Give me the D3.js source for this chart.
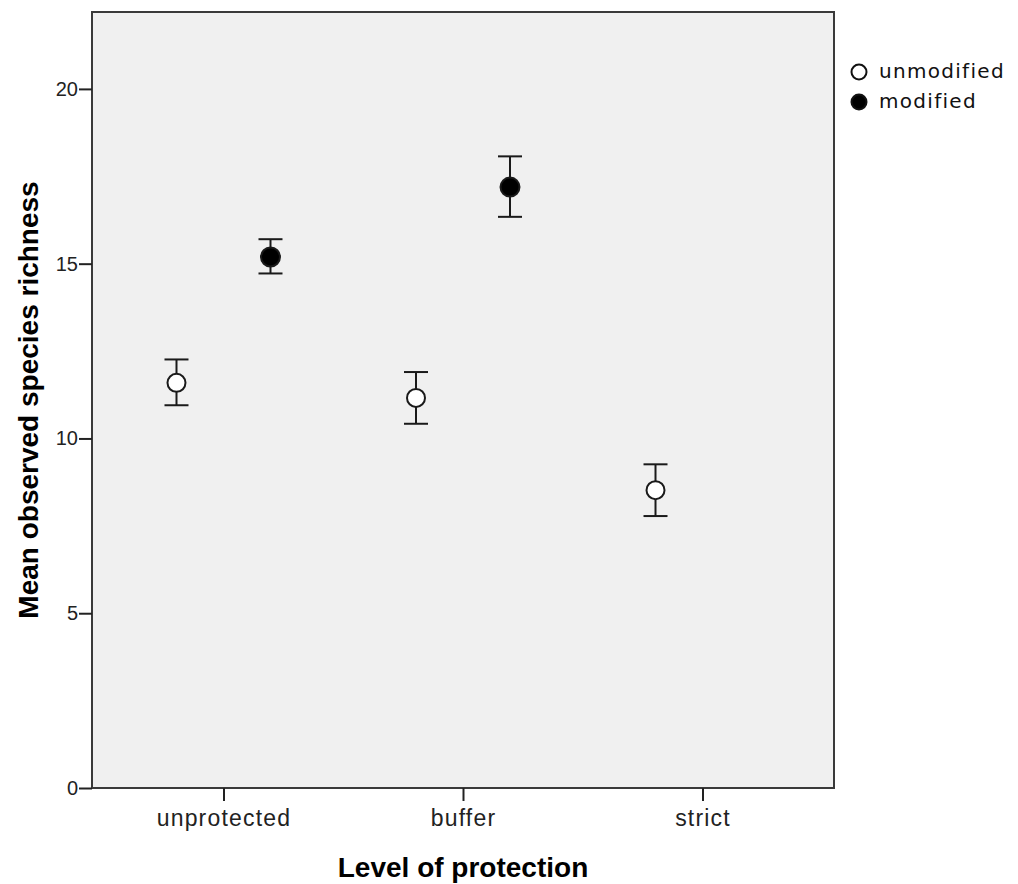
<!DOCTYPE html>
<html lang="en">
	<head>
		<meta charset="utf-8">
		<title>Mean observed species richness by level of protection</title>
		<script type="text/javascript" src="https://cdn.jsdelivr.net/npm/d3@7"></script>
		<style type="text/css">

		body {
			margin: 0;
			background: #ffffff;
		}

		.axis path {
			display: none;
		}

		.axis line {
			stroke: #222222;
			stroke-width: 2px;
		}

		.y.axis text {
			font-family: "Liberation Sans", Arial, sans-serif;
			font-size: 20px;
			fill: #222222;
		}

		.x.axis text {
			font-family: "Liberation Sans", Arial, sans-serif;
			font-size: 23px;
			letter-spacing: 1.2px;
			fill: #222222;
		}

		.title {
			font-family: "Liberation Sans", Arial, sans-serif;
			font-weight: bold;
			font-size: 28px;
			fill: #000000;
		}

		.legend text {
			font-family: "DejaVu Sans", sans-serif;
			font-size: 20px;
			letter-spacing: 1.3px;
			fill: #111111;
		}

		</style>
	</head>
	<body>
		<div id="chart"></div>
		<script type="text/javascript">

		// values
		var categories = ["unprotected", "buffer", "strict"];
		var seriesNames = ["unmodified", "modified"];

		var unmodMean  = [11.59, 11.16, 8.52];
		var unmodLower = [10.95, 10.42, 7.78];
		var unmodUpper = [12.26, 11.90, 9.26];

		var modMean  = [15.19, 17.19, null];
		var modLower = [14.72, 16.34, null];
		var modUpper = [15.70, 18.07, null];

		var yTicks = [0, 5, 10, 15, 20];
		var yMax = 22.2;

		var margin = {top: 12, left: 92, right: 184, bottom: 96},
			width = 1018,
			height = 884;

		var svg = d3.select("#chart").append("svg")
			.attr("width", width)
			.attr("height", height);

		var x = d3.scalePoint()
			.domain(categories)
			.range([margin.left, width - margin.right])
			.padding(0.549);

		var y = d3.scaleLinear()
			.domain([0, yMax])
			.range([height - margin.bottom, margin.top]);

		// two series sit either side of the category tick
		var offset = d3.scalePoint()
			.domain(seriesNames)
			.range([-47, 47]);

		// plot background
		svg.append("rect")
			.attr("x", margin.left)
			.attr("y", margin.top)
			.attr("width", width - margin.right - margin.left)
			.attr("height", height - margin.bottom - margin.top)
			.attr("fill", "#f0f0f0")
			.attr("stroke", "#3a3a3a")
			.attr("stroke-width", 2);

		var yAxis = d3.axisLeft(y)
			.tickValues(yTicks)
			.tickSize(13)
			.tickPadding(1);

		svg.append("g")
			.attr("class", "y axis")
			.attr("transform", "translate(" + margin.left + ",0)")
			.call(yAxis);

		var xAxis = d3.axisBottom(x)
			.tickSize(13)
			.tickPadding(9);

		svg.append("g")
			.attr("class", "x axis")
			.attr("transform", "translate(0," + (height - margin.bottom) + ")")
			.call(xAxis);

		// build the rows for each series
		var rows = [];
		categories.forEach(function(c, i) {
			rows.push({cat: c, series: "unmodified", mean: unmodMean[i], lo: unmodLower[i], hi: unmodUpper[i]});
			if (modMean[i] != null) {
				rows.push({cat: c, series: "modified", mean: modMean[i], lo: modLower[i], hi: modUpper[i]});
			}
		});

		var px = function(d) { return x(d.cat) + offset(d.series); };

		var bars = svg.selectAll("g.bar")
			.data(rows)
			.enter()
			.append("g")
			.attr("class", "bar")
			.attr("stroke", "#1a1a1a")
			.attr("stroke-width", 2);

		bars.append("line")
			.attr("x1", px)
			.attr("x2", px)
			.attr("y1", function(d) { return y(d.lo); })
			.attr("y2", function(d) { return y(d.hi); });

		bars.append("line")
			.attr("x1", function(d) { return px(d) - 12; })
			.attr("x2", function(d) { return px(d) + 12; })
			.attr("y1", function(d) { return y(d.hi); })
			.attr("y2", function(d) { return y(d.hi); });

		bars.append("line")
			.attr("x1", function(d) { return px(d) - 12; })
			.attr("x2", function(d) { return px(d) + 12; })
			.attr("y1", function(d) { return y(d.lo); })
			.attr("y2", function(d) { return y(d.lo); });

		bars.append("circle")
			.attr("cx", px)
			.attr("cy", function(d) { return y(d.mean); })
			.attr("r", function(d) { return d.series == "modified" ? 9.5 : 9; })
			.attr("fill", function(d) { return d.series == "modified" ? "#000000" : "#ffffff"; });

		// axis titles
		svg.append("text")
			.attr("class", "title")
			.attr("x", (margin.left + width - margin.right) / 2)
			.attr("y", 877)
			.attr("text-anchor", "middle")
			.text("Level of protection");

		svg.append("text")
			.attr("class", "title")
			.attr("transform", "translate(38," + ((margin.top + height - margin.bottom) / 2) + ") rotate(-90)")
			.attr("text-anchor", "middle")
			.text("Mean observed species richness");

		// legend
		var legend = svg.append("g")
			.attr("class", "legend");

		var item = legend.selectAll("g")
			.data(seriesNames)
			.enter()
			.append("g")
			.attr("transform", function(d, i) { return "translate(859," + (72 + i * 30) + ")"; });

		item.append("circle")
			.attr("r", 7.5)
			.attr("fill", function(d) { return d == "modified" ? "#000000" : "#ffffff"; })
			.attr("stroke", "#111111")
			.attr("stroke-width", 2);

		item.append("text")
			.attr("x", 20)
			.attr("y", 6)
			.text(function(d) { return d; });

		</script>
	</body>
</html>
